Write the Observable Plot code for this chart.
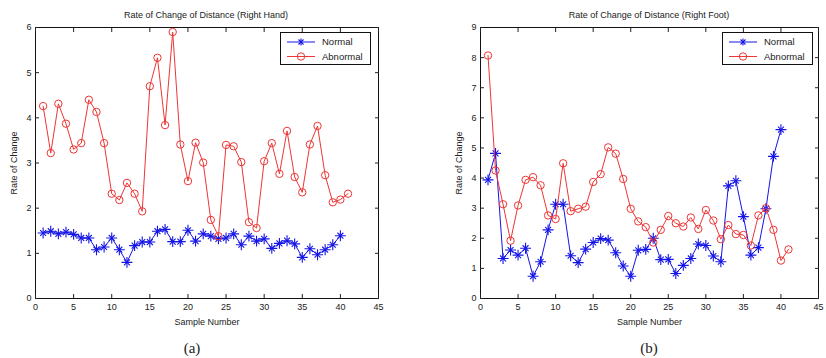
<!DOCTYPE html>
<html><head><meta charset="utf-8">
<script src="https://cdn.jsdelivr.net/npm/d3@7"></script>
<script src="https://cdn.jsdelivr.net/npm/@observablehq/plot@0.6"></script>
<style>
body{margin:0;background:#fff;}
#wrap{position:relative;width:826px;height:358px;overflow:hidden;font-family:'Liberation Sans',Arial,sans-serif;background:#fff;}
.panel{position:absolute;top:0;}
.title{position:absolute;font-size:9px;transform:translate(-50%,-50%);white-space:nowrap;color:#222;}
.cap{position:absolute;font-family:'Liberation Serif','DejaVu Serif',serif;font-size:15px;transform:translate(-50%,-50%);color:#222;}
</style></head>
<body>
<div id="wrap">
  <div class="title" style="left:206px;top:15px">Rate of Change of Distance (Right Hand)</div>
  <div class="title" style="left:649px;top:15px">Rate of Change of Distance (Right Foot)</div>
  <div class="cap" style="left:192px;top:348px">(a)</div>
  <div class="cap" style="left:649px;top:348px">(b)</div>
  <div id="pa" class="panel" style="left:0px"></div>
  <div id="pb" class="panel" style="left:413px"></div>
</div>
<script>
// ---- data ----
const xTicks = [0, 5, 10, 15, 20, 25, 30, 35, 40, 45];
const yTicksA = [0, 1, 2, 3, 4, 5, 6];
const yTicksB = [0, 1, 2, 3, 4, 5, 6, 7, 8, 9];
const seriesNames = ["Normal", "Abnormal"];

// (a) Right Hand
const handNormal = [1.45, 1.49, 1.43, 1.47, 1.42, 1.34, 1.34, 1.08, 1.14, 1.34,
  1.08, 0.80, 1.17, 1.25, 1.25, 1.49, 1.53, 1.26, 1.26, 1.51,
  1.27, 1.43, 1.38, 1.32, 1.34, 1.43, 1.19, 1.38, 1.27, 1.32,
  1.11, 1.22, 1.28, 1.21, 0.91, 1.10, 0.97, 1.08, 1.19, 1.39];
const handAbnormal = [4.26, 3.22, 4.31, 3.87, 3.30, 3.44, 4.40, 4.13, 3.44, 2.32,
  2.18, 2.56, 2.32, 1.93, 4.70, 5.33, 3.84, 5.90, 3.41, 2.60,
  3.45, 3.01, 1.74, 1.38, 3.40, 3.37, 3.02, 1.69, 1.56, 3.04,
  3.44, 2.76, 3.71, 2.69, 2.35, 3.41, 3.82, 2.73, 2.13, 2.19, 2.32];

// (b) Right Foot
const footNormal = [3.94, 4.82, 1.33, 1.61, 1.44, 1.67, 0.74, 1.22, 2.28, 3.13,
  3.13, 1.42, 1.19, 1.64, 1.86, 1.99, 1.94, 1.52, 1.08, 0.74,
  1.60, 1.63, 2.00, 1.29, 1.30, 0.83, 1.10, 1.33, 1.81, 1.76,
  1.41, 1.22, 3.74, 3.91, 2.72, 1.44, 1.69, 2.98, 4.72, 5.61];
const footAbnormal = [8.07, 4.25, 3.13, 1.92, 3.09, 3.94, 4.03, 3.76, 2.76, 2.64,
  4.49, 2.90, 2.98, 3.05, 3.87, 4.13, 5.02, 4.81, 3.97, 2.98,
  2.56, 2.37, 1.86, 2.28, 2.74, 2.50, 2.39, 2.69, 2.31, 2.94,
  2.59, 1.97, 2.44, 2.14, 2.11, 1.76, 2.76, 3.00, 2.28, 1.26, 1.63];

// ---- styles ----
const BLUE = "#1414e6";
const RED = "#ee3535";
const FONT = "'Liberation Sans', Arial, sans-serif";
const intFmt = d3.format("d");

function seriesMarks(values, color, kind) {
  const opts = {x: (d, i) => i + 1, y: d => d};
  const marks = [Plot.line(values, {...opts, stroke: color, strokeWidth: 1})];
  if (kind === "star") {
    marks.push(Plot.dot(values, {...opts, symbol: "plus", r: 3.6, stroke: color, strokeWidth: 1.1}));
    marks.push(Plot.dot(values, {...opts, symbol: "times", r: 2.8, stroke: color, strokeWidth: 1.1}));
  } else {
    marks.push(Plot.dot(values, {...opts, symbol: "circle", r: 3.7, stroke: color, fill: "none", strokeWidth: 1}));
  }
  return marks;
}

function panel({normal, abnormal, yTicks, marginLeft, marginRight}) {
  const yMax = yTicks[yTicks.length - 1];
  return Plot.plot({
    width: 413, height: 358,
    marginLeft, marginRight, marginTop: 27, marginBottom: 60,
    style: {fontFamily: FONT, fontSize: "9px", background: "transparent", overflow: "visible", color: "#222"},
    x: {domain: [0, 45], ticks: xTicks},
    y: {domain: [0, yMax], ticks: yTicks},
    marks: [
      Plot.frame({stroke: "#111", strokeWidth: 1}),
      Plot.axisX({anchor: "bottom", ticks: xTicks, tickSize: -4, tickPadding: 9, tickFormat: intFmt,
        label: "Sample Number", labelAnchor: "center", labelArrow: "none", labelOffset: 26}),
      Plot.axisX({anchor: "top", ticks: xTicks, tickSize: -4, tickFormat: () => "", label: null}),
      Plot.axisY({anchor: "left", ticks: yTicks, tickSize: -4, tickPadding: 8, tickFormat: intFmt,
        label: "Rate of Change", labelAnchor: "center", labelArrow: "none", labelOffset: 25}),
      Plot.axisY({anchor: "right", ticks: yTicks, tickSize: -4, tickFormat: () => "", label: null}),
      ...seriesMarks(normal, BLUE, "star"),
      ...seriesMarks(abnormal, RED, "circle")
    ]
  });
}

function legend(left, top) {
  const w = 91, h = 33;
  const svg = d3.create("svg").attr("width", w).attr("height", h)
    .style("position", "absolute").style("left", left + "px").style("top", top + "px");
  svg.append("rect").attr("x", 0.5).attr("y", 0.5).attr("width", w - 1).attr("height", h - 1)
    .attr("fill", "#fff").attr("stroke", "#111");
  const colors = [BLUE, RED];
  seriesNames.forEach((name, i) => {
    const y = 10 + i * 14.5;
    const c = colors[i];
    svg.append("line").attr("x1", 7).attr("x2", 35).attr("y1", y).attr("y2", y).attr("stroke", c);
    if (i === 0) {
      svg.append("line").attr("x1", 21).attr("x2", 21).attr("y1", y - 3.6).attr("y2", y + 3.6).attr("stroke", c).attr("stroke-width", 1.1);
      svg.append("line").attr("x1", 18.5).attr("x2", 23.5).attr("y1", y - 2.5).attr("y2", y + 2.5).attr("stroke", c).attr("stroke-width", 1.1);
      svg.append("line").attr("x1", 18.5).attr("x2", 23.5).attr("y1", y + 2.5).attr("y2", y - 2.5).attr("stroke", c).attr("stroke-width", 1.1);
    } else {
      svg.append("circle").attr("cx", 21).attr("cy", y).attr("r", 3.7).attr("fill", "none").attr("stroke", c);
    }
    svg.append("text").attr("x", 42).attr("y", y).attr("dy", "0.35em")
      .attr("font-family", FONT).attr("font-size", 9.5).attr("fill", "#222").text(name);
  });
  return svg.node();
}

document.getElementById("pa").append(panel({normal: handNormal, abnormal: handAbnormal, yTicks: yTicksA, marginLeft: 35, marginRight: 35}));
document.getElementById("pb").append(panel({normal: footNormal, abnormal: footAbnormal, yTicks: yTicksB, marginLeft: 67, marginRight: 8}));
const wrap = document.getElementById("wrap");
wrap.append(legend(280, 32));
wrap.append(legend(722, 32));
</script>
</body></html>
